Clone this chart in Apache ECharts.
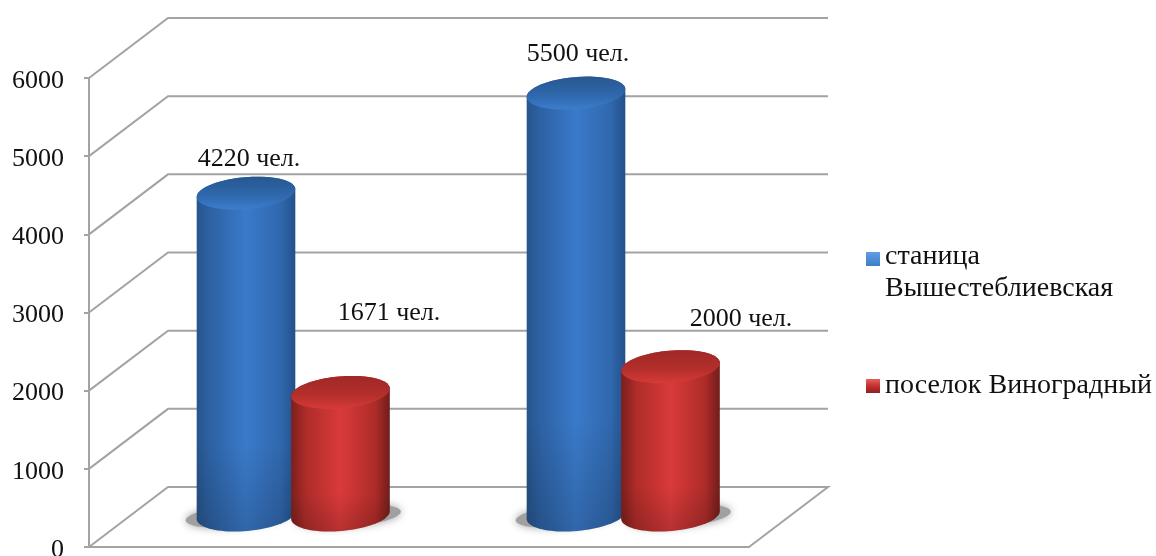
<!DOCTYPE html>
<html><head><meta charset="utf-8">
<style>html,body{margin:0;padding:0;background:#fff}#c{width:1156px;height:556px}</style>
<script src="https://cdn.jsdelivr.net/npm/echarts@6/dist/echarts.min.js"></script>
</head><body><div id="c"></div>
<script>
const categories = ['2010', '2015'];
const seriesNames = ['станица\nВышестеблиевская', 'поселок Виноградный'];
const stanitsa = [4220, 5500];
const poselok = [1671, 2000];
const yTicks = [0, 1000, 2000, 3000, 4000, 5000, 6000];
const unit = ' чел.';

const FONT = '"Liberation Serif","Times New Roman",serif';
const GRID = '#a3a3a3';
const DX = 79, DY = 60;
const RX = 49.5, RY = 16, TILT = 5 * Math.PI / 180;
const labelShift = [[[3, -34], [48.5, -79]], [[2, -39], [70.5, -47]]];

const grad = (stops, x2, y2) => ({type: 'linear', x: 0, y: 0, x2: x2, y2: y2,
  colorStops: stops.map((c) => ({offset: c[0], color: c[1]}))});
const palettes = [
  {body: grad([[0, '#27548c'], [0.14, '#2d62a4'], [0.5, '#3a7aca'], [0.85, '#3068ae'], [1, '#24508a']], 1, 0),
   cap: grad([[0, '#27578f'], [0.6, '#2f69ae'], [1, '#3d7dcd']], 0, 1),
   legend: grad([[0, '#5f9fe6'], [0.5, '#2f6bb5'], [1, '#234f86']], 0, 1)},
  {body: grad([[0, '#7b1f1c'], [0.15, '#ae2c29'], [0.5, '#d93a3a'], [0.85, '#ae2c29'], [1, '#701d1a']], 1, 0),
   cap: grad([[0, '#9f2826'], [0.6, '#b52f2c'], [1, '#d63a38']], 0, 1),
   legend: grad([[0, '#e8615a'], [0.5, '#c2302e'], [1, '#8c2220']], 0, 1)}
];

function ellipsePts(cx, cy, from, to, rx, ry) {
  const a = rx || RX, b = ry || RY, pts = [];
  for (let i = 0; i <= 40; i++) {
    const t = from + (to - from) * i / 40;
    const x = a * Math.cos(t), y = b * Math.sin(t);
    pts.push([cx + x * Math.cos(TILT) + y * Math.sin(TILT), cy - x * Math.sin(TILT) + y * Math.cos(TILT)]);
  }
  return pts;
}
function barCenter(api, s) {
  const c = api.coord([api.value(0), 0]);
  return {x: c[0] + DX / 2 + (s === 0 ? -47.5 : 47), base: c[1] - 32};
}
function renderCyl(s) {
  return function (params, api) {
    const b = barCenter(api, s);
    const topY = api.coord([api.value(0), api.value(1)])[1] - 24;
    const body = ellipsePts(b.x, b.base, 0, Math.PI).concat(ellipsePts(b.x, topY, Math.PI, 2 * Math.PI));
    const p = palettes[s];
    const shift = labelShift[api.value(0)][s];
    return {type: 'group', children: [
      {type: 'polygon', shape: {points: body}, style: {fill: p.body}},
      {type: 'polygon', shape: {points: body}, style: {fill: grad([[0, 'rgba(0,0,0,0)'], [0.75, 'rgba(0,0,0,0)'], [1, 'rgba(0,0,0,0.16)']], 0, 1)}},
      {type: 'polygon', shape: {points: ellipsePts(b.x, topY, 0, 2 * Math.PI)}, style: {fill: p.cap}},
      {type: 'text', x: b.x + shift[0], y: topY + shift[1],
       style: {text: api.value(1) + unit, fill: '#111', font: '26px ' + FONT, align: 'center', verticalAlign: 'middle'}}
    ]};
  };
}
function renderShadow(s) {
  return function (params, api) {
    const b = barCenter(api, s);
    const shiftX = s === 0 ? -8 : 8;
    return {type: 'polygon', shape: {points: ellipsePts(b.x + shiftX, b.base + 1, 0, 2 * Math.PI, RX + 3, RY - 5)},
      style: {fill: '#a0a0a0', shadowBlur: 8, shadowColor: '#a0a0a0'}};
  };
}
function renderWall(params, api) {
  const v = api.value(0);
  const cs = params.coordSys;
  const y = api.coord([0, v])[1];
  const x0 = cs.x, x1 = cs.x + cs.width;
  const pts = v === 0
    ? [[x0, y], [x0 + DX, y - DY], [x1 + DX, y - DY], [x1, y]]
    : [[x0, y], [x0 + DX, y - DY], [x1 + DX, y - DY]];
  return {type: 'polyline', shape: {points: pts}, style: {stroke: GRID, lineWidth: 2, fill: null}};
}

const rows = s => categories.map((c, i) => [i, (s === 0 ? stanitsa : poselok)[i]]);
const chart = echarts.init(document.getElementById('c'), null, {renderer: 'canvas'});
chart.setOption({
  animation: false,
  backgroundColor: '#fff',
  grid: {left: 89, top: 78, width: 660, height: 469, outerBoundsMode: 'none'},
  xAxis: {type: 'category', data: categories,
    axisLine: {lineStyle: {color: GRID, width: 2}}, axisTick: {show: false}, axisLabel: {show: false}},
  yAxis: {type: 'value', min: 0, max: 6000, interval: 1000, splitLine: {show: false},
    axisLine: {show: true, lineStyle: {color: GRID, width: 2}},
    axisTick: {show: true, length: 5, lineStyle: {color: GRID, width: 2}},
    axisLabel: {margin: 25, formatter: v => '{a|' + v + '}',
      rich: {a: {color: '#111', fontFamily: FONT, fontSize: 26, padding: [6, 0, 0, 0]}}}},
  legend: [
    {data: [seriesNames[0]], left: 861, top: 236, orient: 'vertical', itemWidth: 14, itemHeight: 42, itemGap: 0,
     icon: 'path://M0 0H14V14H0Z M0 42L0 42', selectedMode: false,
     textStyle: {fontFamily: FONT, fontSize: 28, color: '#111', lineHeight: 32}},
    {data: [seriesNames[1]], left: 861, top: 365, orient: 'vertical', itemWidth: 14, itemHeight: 14, itemGap: 0,
     icon: 'rect', selectedMode: false,
     textStyle: {fontFamily: FONT, fontSize: 28, color: '#111', lineHeight: 32}}
  ],
  series: [
    {type: 'custom', name: 'walls', z: 1, silent: true, clip: false, renderItem: renderWall,
     data: yTicks.map(v => [v]), encode: {y: 0}},
    {type: 'custom', name: 'shadow0', z: 2, silent: true, renderItem: renderShadow(0), data: rows(0), clip: false},
    {type: 'custom', name: 'shadow1', z: 2, silent: true, renderItem: renderShadow(1), data: rows(1), clip: false},
    {type: 'custom', name: seriesNames[0], z: 3, clip: false, renderItem: renderCyl(0), data: rows(0),
     itemStyle: {color: palettes[0].legend}, encode: {x: 0, y: 1}},
    {type: 'custom', name: seriesNames[1], z: 4, clip: false, renderItem: renderCyl(1), data: rows(1),
     itemStyle: {color: palettes[1].legend}, encode: {x: 0, y: 1}}
  ]
});
</script></body></html>
